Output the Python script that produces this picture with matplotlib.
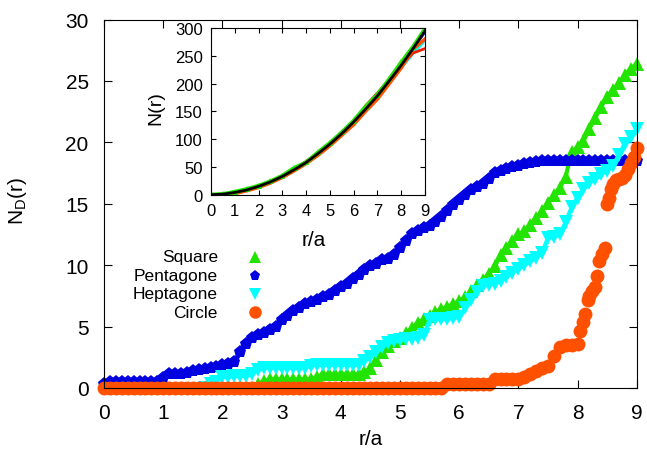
import numpy as np
import matplotlib
matplotlib.use('Agg')
import matplotlib.pyplot as plt

plt.rcParams['font.family'] = 'Liberation Sans'
plt.rcParams['mathtext.fontset'] = 'custom'
plt.rcParams['mathtext.rm'] = 'Liberation Sans'

# ====== DATOS ======
r = np.round(np.arange(0, 9.01, 0.1), 1)

square = [0]*26 + [0.3, 0.6] + [0.7]*8 + [0.9] + [1.1]*7 + [
    1.3, 1.6, 2.3, 2.9, 3.4, 3.8, 4.1, 4.5, 4.9, 5.3, 5.6, 5.9, 6.2, 6.4, 6.6, 6.8,
    7.1, 7.4, 7.9, 8.4, 8.8, 9.3, 9.9, 10.8, 11.4, 12.0, 12.5, 12.8, 13.3, 13.8,
    14.4, 15.1, 15.7, 16.3, 17.2, 19.2, 19.6, 20.1, 21.1, 22.0, 22.9, 23.7, 24.3,
    24.8, 25.5, 26.0, 26.4]

pentagone = [0.3] + [0.5]*9 + [
    0.8, 1.1, 1.15, 1.15, 1.25, 1.35, 1.45, 1.55, 1.65, 1.75, 1.85, 1.95, 2.1,
    2.9, 3.6, 4.1, 4.3, 4.5, 4.7, 5.0, 5.5, 5.9, 6.3, 6.5, 6.8, 7.0, 7.2, 7.4, 7.6,
    7.9, 8.2, 8.5, 8.9, 9.2, 9.6, 9.9, 10.1, 10.4, 10.5, 10.8, 11.4, 12.0, 12.5,
    12.8, 13.0, 13.2, 13.5, 13.9, 14.4, 14.9, 15.3, 15.7, 16.1, 16.4, 16.6, 17.0,
    17.5, 17.7, 17.8, 18.0, 18.1, 18.2, 18.3, 18.4] + [18.5]*17

heptagone = [0]*18 + [0.3, 0.5, 0.9, 0.9, 1.0, 1.0, 1.0, 1.1, 1.5] + [1.65]*8 + [1.8] + [1.9]*8 + [
    2.2, 2.5, 2.9, 3.3, 3.7, 3.8, 3.9, 4.0, 4.0, 4.1, 4.3, 5.5, 5.6, 5.6, 5.6, 5.7,
    5.8, 6.5, 7.2, 7.8, 8.3, 8.4, 8.5, 8.7, 9.0, 9.4, 9.7, 10.0, 10.3, 10.6, 11.0,
    12.2, 12.3, 12.5, 13.5, 14.7, 15.5, 16.2, 16.7, 17.0, 17.4, 17.7, 18.1, 19.0,
    19.9, 20.4, 21.1]

circle_r = list(np.round(np.arange(0, 8.01, 0.1), 1)) + [
    8.05, 8.1, 8.13, 8.17, 8.2, 8.25, 8.3, 8.33, 8.37, 8.42, 8.46, 8.5, 8.53,
    8.57, 8.6, 8.65, 8.7, 8.75, 8.8, 8.85, 8.9, 8.95, 9.0]
circle = [0]*58 + [0.35]*8 + [0.7]*5 + [
    0.9, 1.1, 1.4, 1.6, 1.8, 2.6, 3.3, 3.5, 3.5, 3.6,
    4.6, 5.4, 6.0, 7.2, 7.5, 7.9, 8.2, 9.1, 10.3, 10.9, 11.4, 15.0, 15.5, 16.2,
    16.6, 16.9, 17.0, 17.1, 17.3, 17.8, 18.3, 18.8, 19.5]

# inset N(r)
r_in = np.round(np.arange(0, 9.01, 0.5), 1)
n_square = [0, 1, 5, 10, 16, 24, 34, 48, 58, 76, 93, 112, 133, 158, 180, 208, 238, 266, 298]
n_pent = [0, 1, 4, 9, 15, 23, 33, 45, 59, 74, 91, 110, 131, 155, 178, 205, 233, 262, 292]
n_hept = [0, 1, 4, 9, 15, 23, 33, 46, 59, 74, 91, 110, 131, 155, 179, 204, 228, 254, 277]
n_circle = [0, 0, 2, 7, 13, 21, 31, 43, 56, 71, 88, 107, 126, 150, 172, 200, 228, 262, 280]
n_red = [0, 0, 3, 8, 14, 24, 32, 46, 60, 75, 90, 112, 130, 160, 183, 207, 232, 255, 263]
n_fit = [0, 1, 4, 8.5, 15, 23, 33, 45, 58, 74, 91, 110, 131, 154, 178, 205, 233, 263, 295]

etiquetas = ['Square', 'Pentagone', 'Heptagone', 'Circle']
colores = ['#22e400', '#0000e0', '#00ffff', '#ff5000']
marcadores = ['^', 'p', 'v', 'o']
tamanos = [10, 9.5, 10, 10]
lineas = [3, 3.5, 3, 0]
tam_leyenda = [8, 8, 8, 9]

# ====== FIGURA ======
fig = plt.figure(figsize=(6.47, 4.60), dpi=100)
ax = fig.add_axes([104/647, 71/460, 532.7/647, 368.5/460])

series = [(r, square), (r, pentagone), (r, heptagone), (circle_r, circle)]
for (x, y), c, m, s, lw in zip(series, colores, marcadores, tamanos, lineas):
    x = np.asarray(x)
    y = np.asarray(y)
    # los tramos en cero quedan tapados por los circulos: se dibuja desde el primer valor > 0
    if lw > 0 and y[0] == 0:
        i0 = max(np.argmax(y > 0) - 1, 0)
        x, y = x[i0:], y[i0:]
    if lw > 0:
        ax.plot(x, y, color=c, lw=lw, clip_on=False)
    ax.plot(x, y, linestyle='none', marker=m, ms=s, color=c, mec=c, mew=0, clip_on=False)

ax.set_xlim(0, 9)
ax.set_ylim(0, 30)
ax.set_xticks(range(0, 10))
ax.set_yticks(range(0, 31, 5))
ax.tick_params(direction='in', length=6, width=0.8, labelsize=15, pad=11,
               top=True, right=True)
ax.set_xlabel('r/a', fontsize=15)
ax.set_ylabel(r'N$_\mathrm{D}$(r)', fontsize=15)
ax.xaxis.set_label_coords(0.5, -0.11)
ax.yaxis.set_label_coords(-0.14, 0.51)

# leyenda manual (texto alineado a la derecha, simbolo a la derecha)
ys = [0.3555, 0.304, 0.2551, 0.2062]
for lab, c, m, s, yy in zip(etiquetas, colores, marcadores, tam_leyenda, ys):
    ax.text(0.214, yy, lab, transform=ax.transAxes, ha='right', va='center', fontsize=12.5)
    ax.plot([0.2835], [yy], transform=ax.transAxes, marker=m, ms=s, color=c, mew=0,
            linestyle='none', clip_on=False)

# ====== INSET ======
axi = fig.add_axes([211/647, (460-195.7)/460, 214/647, 166.7/460])
axi.plot(r_in, n_pent, color='#0000e0', lw=1.5)
axi.plot(r_in, n_hept, color='#00ffff', lw=2)
axi.plot(r_in, n_red, color='#ee2000', lw=2)
axi.plot(r_in, n_circle, color='#ff5000', lw=2.5)
axi.plot(r_in, n_square, color='#22e400', lw=3, marker='^', ms=4, mew=0)
axi.plot(r_in, n_fit, color='black', lw=2)
axi.set_xlim(0, 9)
axi.set_ylim(0, 300)
axi.set_xticks(range(0, 10))
axi.set_yticks(range(0, 301, 50))
axi.tick_params(direction='in', length=3.5, width=0.8, labelsize=12, pad=6,
                top=True, right=True)
axi.set_xlabel('r/a', fontsize=15)
axi.set_ylabel('N(r)', fontsize=14)
axi.xaxis.set_label_coords(0.48, -0.212)
axi.yaxis.set_label_coords(-0.22, 0.526)

fig.savefig('out.png', dpi=100)
